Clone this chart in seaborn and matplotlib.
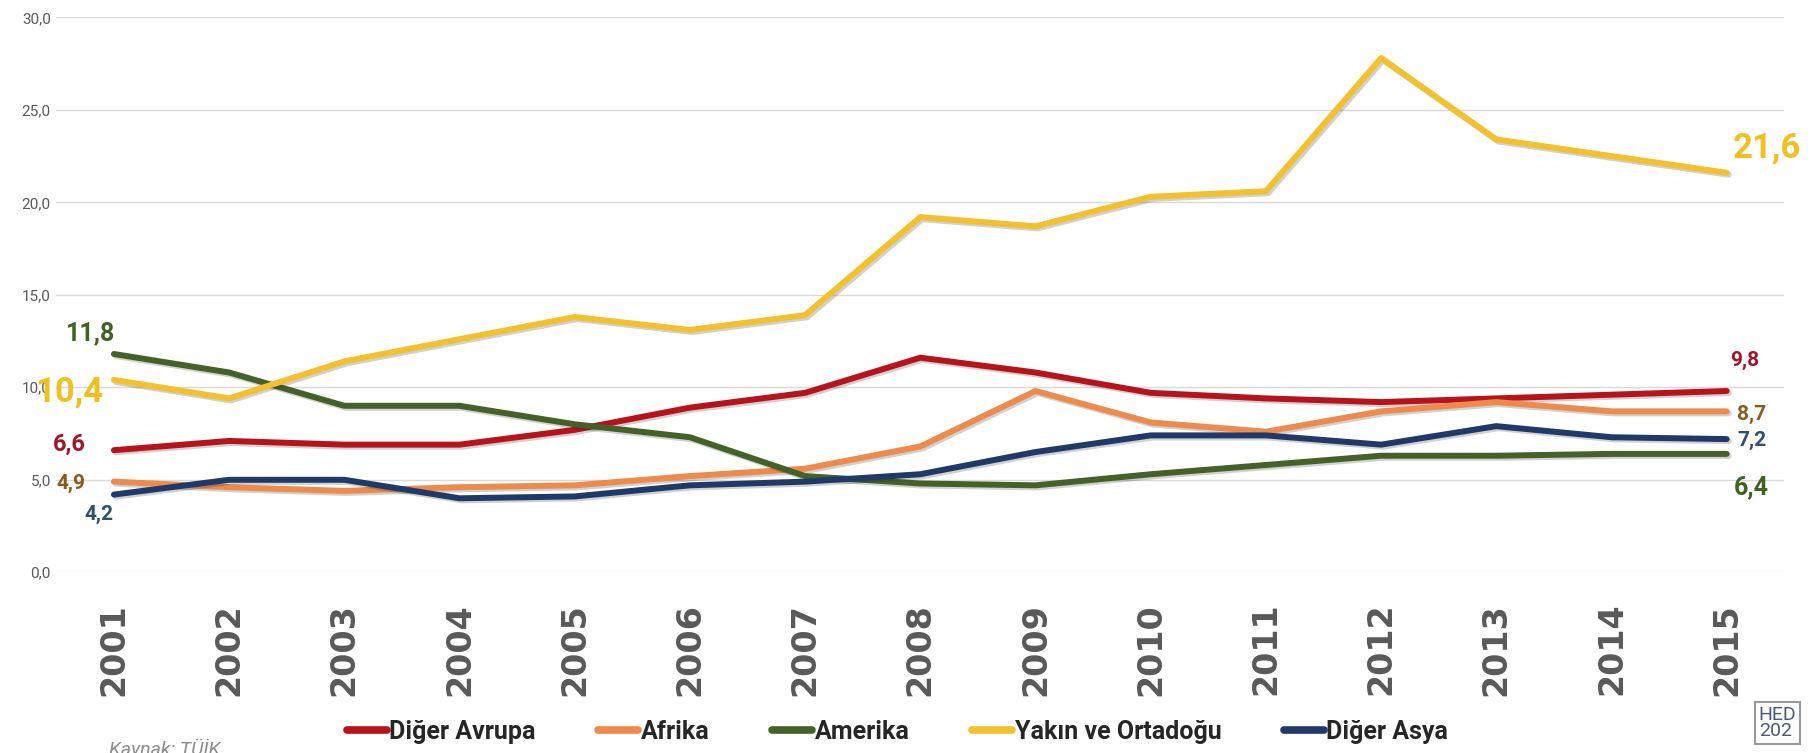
import pandas as pd
import seaborn as sns
import matplotlib.pyplot as plt
import matplotlib.patheffects as pe

# Data
years = list(range(2001, 2016))
diger_avrupa = [6.6, 7.1, 6.9, 6.9, 7.7, 8.9, 9.7, 11.6, 10.8, 9.7, 9.4, 9.2, 9.4, 9.6, 9.8]
afrika = [4.9, 4.6, 4.4, 4.6, 4.7, 5.2, 5.6, 6.8, 9.8, 8.1, 7.6, 8.7, 9.2, 8.7, 8.7]
amerika = [11.8, 10.8, 9.0, 9.0, 8.0, 7.3, 5.2, 4.8, 4.7, 5.3, 5.8, 6.3, 6.3, 6.4, 6.4]
yakin_ortadogu = [10.4, 9.4, 11.4, 12.6, 13.8, 13.1, 13.9, 19.2, 18.7, 20.3, 20.6, 27.8, 23.4, 22.5, 21.6]
diger_asya = [4.2, 5.0, 5.0, 4.0, 4.1, 4.7, 4.9, 5.3, 6.5, 7.4, 7.4, 6.9, 7.9, 7.3, 7.2]

regions = ['Diğer Avrupa', 'Afrika', 'Amerika', 'Yakın ve Ortadoğu', 'Diğer Asya']
colors = ['#B8121B', '#EE8A4B', '#446127', '#F3C12D', '#1F3A68']
label_colors = ['#A3162A', '#8A5A1E', '#3F6321', '#F0C020', '#2F4F70']

series = [diger_avrupa, afrika, amerika, yakin_ortadogu, diger_asya]
df = pd.DataFrame({
    'year': years * len(regions),
    'region': [r for r in regions for _ in years],
    'value': [v for s in series for v in s],
})

sns.set_theme(style='white')
plt.rcParams['font.family'] = ['Roboto', 'DejaVu Sans']

fig = plt.figure(figsize=(18.17, 7.53), dpi=100)
ax = fig.add_axes([0.031, 0.240, 0.951, 0.737])

sns.lineplot(data=df, x='year', y='value', hue='region', hue_order=regions,
             palette=colors, linewidth=4.3, ax=ax,
             path_effects=[pe.SimpleLineShadow(offset=(1.5, -1.5), alpha=0.2), pe.Normal()])

ax.set_xlim(2000.5, 2015.5)
ax.set_ylim(0, 30)
ax.set_yticks(range(0, 31, 5))
ax.set_yticklabels([f'{v:.1f}'.replace('.', ',') for v in range(0, 31, 5)],
                   fontsize=11, color='#595959')
ax.set_xticks(years)
ax.set_xticklabels([str(y) for y in years], rotation=90, fontsize=24,
                   fontweight='bold', color='#595959', family='DejaVu Sans')
ax.tick_params(axis='x', pad=22, length=0)
ax.tick_params(axis='y', pad=4, length=0)
ax.grid(axis='y', color='#D9D9D9', linewidth=1)
ax.grid(axis='x', visible=False)
for s in ax.spines.values():
    s.set_visible(False)
ax.set_xlabel('')
ax.set_ylabel('')

# end labels
def lab(x, y, text, color, size, dx, dy):
    ax.annotate(text, (x, y), xytext=(dx, dy), textcoords='offset points',
                ha='center', va='center', fontsize=size, fontweight='bold',
                color=color, annotation_clip=False)

def fmt(v):
    return f'{v:.1f}'.replace('.', ',')

lab(2001, amerika[0], fmt(amerika[0]), label_colors[2], 18, -17, 15)
lab(2001, yakin_ortadogu[0], fmt(yakin_ortadogu[0]), label_colors[3], 25, -32, -9)
lab(2001, diger_avrupa[0], fmt(diger_avrupa[0]), label_colors[0], 17, -32, 4)
lab(2001, afrika[0], fmt(afrika[0]), label_colors[1], 15, -31, -1)
lab(2001, diger_asya[0], fmt(diger_asya[0]), label_colors[4], 15, -11, -14)

lab(2015, yakin_ortadogu[-1], fmt(yakin_ortadogu[-1]), label_colors[3], 25, 29, 18)
lab(2015, diger_avrupa[-1], fmt(diger_avrupa[-1]), label_colors[0], 15, 13, 22)
lab(2015, afrika[-1], fmt(afrika[-1]), label_colors[1], 15, 18, -2)
lab(2015, diger_asya[-1], fmt(diger_asya[-1]), label_colors[4], 15, 18, -1)
lab(2015, amerika[-1], fmt(amerika[-1]), label_colors[2], 18, 18, -24)

handles, labels = ax.get_legend_handles_labels()
ax.get_legend().remove()
for h in handles:
    h.set_linewidth(5.5)
    h.set_path_effects([])
fig.legend(handles, labels, loc='center', bbox_to_anchor=(0.494, 0.028), ncol=5,
           frameon=False, handlelength=1.6, handletextpad=0.1, columnspacing=2.5,
           prop={'family': 'Roboto', 'weight': 'bold', 'size': 18})

fig.text(0.060, 0.005, 'Kaynak: TÜİK', fontsize=14, style='italic', color='#8C8C8C',
         va='center')
fig.text(0.968, 0.04, 'HED\n202', fontsize=14, color='#4A5A7A', va='center', ha='left',
         linespacing=0.9,
         bbox=dict(boxstyle='square,pad=0.2', fc='white', ec='#999999', lw=1.5))

fig.savefig('out.png', dpi=100)
